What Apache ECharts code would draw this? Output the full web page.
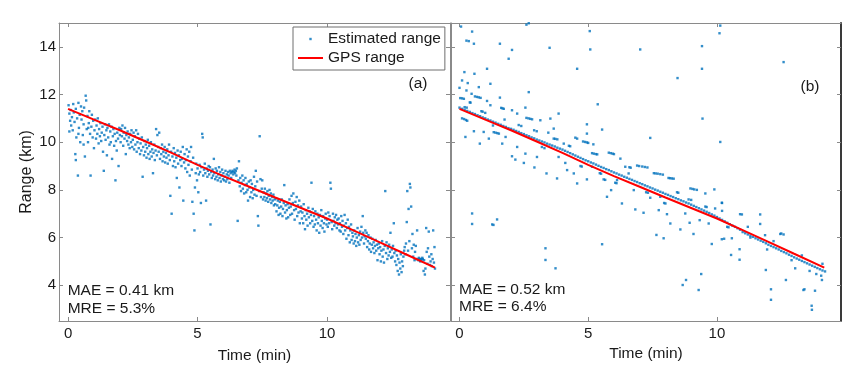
<!DOCTYPE html>
<html>
<head>
<meta charset="utf-8">
<script src="https://cdn.jsdelivr.net/npm/echarts@6/dist/echarts.min.js"></script>
<style>html,body{margin:0;padding:0;background:#fff}#c{width:858px;height:372px}</style>
</head>
<body>
<div id="c"></div>
<script>
// ---- data ----
const xTicks = [0, 5, 10];
const yTicks = [4, 6, 8, 10, 12, 14];
const gpsTime  = [0, 1, 2, 3, 4, 5, 6, 7, 8, 9, 10, 11, 12, 13, 14.17];
const gpsRange = [11.40, 10.95, 10.50, 10.03, 9.55, 9.05, 8.58, 8.13, 7.68, 7.24, 6.80, 6.31, 5.82, 5.32, 4.74];

// panel (a): estimated range [time (min), range (km)]
const estA = [
[0.02,11.55],[0.05,11.2],[0.08,10.9],[0.1,11.35],[0.12,10.7],[0.15,11.05],[0.18,10.5],[0.2,11.6],[0.22,11.25],[0.25,10.85],[0.28,9.5],[0.3,11.4],[0.32,10.2],[0.35,11.0],[0.38,8.6],[0.4,11.65],[0.42,10.6],[0.45,11.15],[0.47,10.0],[0.5,11.5],[0.05,10.45],[0.3,9.25],[0.4,10.35],
[0.52,10.95],[0.55,11.3],[0.57,10.3],[0.6,10.75],[0.62,11.45],[0.65,9.4],[0.68,11.95],[0.7,11.75],[0.72,10.55],[0.75,11.1],[0.77,10.0],[0.8,10.8],[0.82,11.3],[0.85,10.35],[0.87,8.6],[0.9,10.65],[0.92,11.15],[0.95,10.2],[0.97,10.9],[1.0,9.75],[0.78,10.6],[0.6,9.9],
[1.02,10.5],[1.05,10.95],[1.08,10.15],[1.1,10.7],[1.13,10.35],[1.15,11.0],[1.18,9.95],[1.2,10.55],[1.23,10.25],[1.25,10.8],[1.28,10.05],[1.3,10.4],[1.33,10.65],[1.35,9.6],[1.38,8.8],[1.4,10.3],[1.43,10.75],[1.45,10.1],[1.48,10.5],[1.5,9.45],
[1.52,10.6],[1.55,10.2],[1.58,10.75],[1.6,9.9],[1.63,10.45],[1.65,10.0],[1.68,10.65],[1.7,9.3],[1.73,10.25],[1.75,10.55],[1.78,9.85],[1.8,10.35],[1.83,8.4],[1.85,10.05],[1.88,9.65],[1.9,10.4],[1.93,10.15],[1.95,9.0],[1.98,10.6],[2.0,10.3],
[2.03,10.0],[2.05,10.55],[2.08,10.25],[2.1,10.7],[2.13,9.85],[2.15,10.4],[2.18,10.15],[2.2,10.6],[2.23,9.5],[2.25,10.3],[2.28,10.05],[2.3,10.45],[2.33,9.9],[2.35,10.2],[2.38,9.75],[2.4,10.35],[2.43,10.0],[2.45,10.5],[2.48,9.8],
[2.5,10.1],[2.53,10.4],[2.55,9.7],[2.58,10.25],[2.6,9.9],[2.63,10.5],[2.65,9.6],[2.68,10.0],[2.7,10.35],[2.73,9.75],[2.75,10.15],[2.78,9.5],[2.8,9.95],[2.83,9.65],[2.85,10.2],[2.88,8.55],[2.9,9.8],[2.93,9.45],[2.95,10.05],[2.98,9.6],
[3.0,9.9],[3.03,9.35],[3.05,9.75],[3.08,10.1],[3.1,9.5],[3.13,9.85],[3.15,9.3],[3.18,9.6],[3.2,10.0],[3.23,9.4],[3.25,9.7],[3.28,8.7],[3.3,9.55],[3.33,9.9],[3.35,9.25],[3.38,9.65],[3.4,10.55],[3.43,9.45],[3.45,10.3],[3.48,9.8],[3.5,9.6],
[3.52,10.4],[3.55,9.3],[3.58,9.75],[3.6,9.5],[3.63,9.9],[3.65,9.2],[3.68,9.6],[3.7,9.4],[3.73,9.8],[3.75,9.15],[3.78,9.55],[3.8,9.35],[3.83,9.7],[3.85,9.1],[3.88,9.45],[3.9,9.9],[3.93,9.25],[3.95,7.75],[3.98,9.6],[4.0,7.0],
[4.03,9.4],[4.05,9.0],[4.08,9.75],[4.1,9.2],[4.13,9.55],[4.15,8.95],[4.18,9.35],[4.2,8.5],[4.23,9.65],[4.25,9.1],[4.28,9.45],[4.3,8.1],[4.33,9.25],[4.35,9.6],[4.38,9.0],[4.4,9.3],[4.43,9.8],[4.45,7.55],[4.48,9.15],
[4.5,9.5],[4.53,8.9],[4.55,9.25],[4.58,9.7],[4.6,8.75],[4.63,9.4],[4.65,9.05],[4.68,9.6],[4.7,8.6],[4.73,9.2],[4.75,9.8],[4.78,8.85],[4.8,7.5],[4.83,9.35],[4.85,7.0],[4.88,6.3],[4.9,8.1],[4.93,8.7],[4.95,9.1],[4.98,8.4],
[5.0,8.9],[5.03,7.9],[5.05,8.65],[5.08,9.05],[5.1,8.75],[5.13,7.45],[5.15,8.95],[5.18,10.35],[5.2,10.2],[5.22,8.6],[5.25,8.85],[5.28,9.1],[5.3,8.7],[5.33,7.55],[5.35,8.9],[5.38,8.55],[5.4,8.8],[5.43,9.0],[5.45,8.65],[5.48,8.95],[5.5,6.55],
[5.53,8.75],[5.55,8.5],[5.58,8.85],[5.6,8.6],[5.63,9.3],[5.65,8.7],[5.68,8.45],[5.7,8.9],[5.73,8.55],[5.75,8.8],[5.78,8.4],[5.8,8.65],[5.83,8.95],[5.85,8.5],[5.88,8.75],[5.9,8.35],[5.93,8.6],[5.95,8.85],[5.98,8.45],
[6.0,8.7],[6.03,8.4],[6.05,8.55],[6.08,8.8],[6.1,8.35],[6.13,8.65],[6.15,8.45],[6.18,8.75],[6.2,8.6],[6.23,8.3],[6.25,8.8],[6.28,8.7],[6.3,8.5],[6.33,8.75],[6.35,8.8],[6.38,8.65],[6.4,8.75],[6.43,8.85],[6.45,8.7],[6.48,8.8],[6.5,8.6],
[6.52,8.9],[6.55,6.7],[6.58,8.4],[6.6,9.2],[6.63,8.15],[6.65,8.5],[6.68,7.95],[6.7,8.3],[6.73,8.6],[6.75,8.05],[6.78,8.4],[6.8,7.85],[6.83,8.2],[6.85,8.5],[6.88,7.9],[6.9,8.25],[6.93,8.0],[6.95,7.55],[6.98,8.35],
[7.0,8.1],[7.03,7.7],[7.05,8.4],[7.08,7.9],[7.1,8.25],[7.13,7.65],[7.15,8.0],[7.18,8.55],[7.2,7.8],[7.23,8.15],[7.25,8.8],[7.28,7.75],[7.3,8.35],[7.33,6.9],[7.35,6.5],[7.38,7.95],[7.4,10.25],[7.43,8.45],[7.45,7.7],[7.48,8.05],[7.5,8.4],
[7.53,7.6],[7.55,7.9],[7.58,7.7],[7.6,8.05],[7.63,7.55],[7.65,7.85],[7.68,7.65],[7.7,7.95],[7.73,7.5],[7.75,7.75],[7.78,8.0],[7.8,7.6],[7.83,7.85],[7.85,7.45],[7.88,7.7],[7.9,7.55],[7.93,7.8],[7.95,7.35],[7.98,7.6],
[8.0,7.4],[8.03,7.65],[8.05,7.1],[8.08,7.35],[8.1,7.55],[8.13,6.95],[8.15,7.25],[8.18,7.5],[8.2,7.0],[8.23,7.3],[8.25,7.6],[8.28,6.9],[8.3,7.2],[8.33,7.45],[8.35,8.2],[8.38,7.05],[8.4,7.35],[8.43,6.8],[8.45,7.15],[8.48,7.4],
[8.5,6.85],[8.53,7.25],[8.55,7.6],[8.58,6.95],[8.6,7.3],[8.63,7.75],[8.65,7.0],[8.68,7.45],[8.7,7.85],[8.73,7.15],[8.75,6.75],[8.78,7.5],[8.8,7.2],[8.83,7.7],[8.85,6.9],[8.88,7.35],[8.9,7.05],[8.93,7.55],[8.95,6.6],[8.98,7.1],
[9.0,7.3],[9.03,6.8],[9.05,7.05],[9.08,6.6],[9.1,7.4],[9.13,6.9],[9.15,6.35],[9.18,7.15],[9.2,6.75],[9.23,7.0],[9.25,6.5],[9.28,7.25],[9.3,6.85],[9.33,7.1],[9.35,6.6],[9.38,6.95],[9.4,8.3],[9.43,6.7],[9.45,7.2],[9.48,6.45],
[9.5,6.9],[9.53,6.55],[9.55,7.1],[9.58,6.75],[9.6,6.3],[9.63,7.0],[9.65,6.6],[9.68,6.85],[9.7,6.2],[9.73,6.95],[9.75,6.5],[9.78,7.15],[9.8,6.7],[9.83,6.4],[9.85,6.9],[9.88,6.6],[9.9,6.25],[9.93,6.8],[9.95,7.0],[9.98,6.55],
[10.0,6.75],[10.03,6.45],[10.05,7.05],[10.08,6.6],[10.1,6.9],[10.13,8.3],[10.15,8.05],[10.18,6.65],[10.2,6.35],[10.23,7.0],[10.25,6.7],[10.28,6.5],[10.3,6.85],[10.33,6.6],[10.35,6.95],[10.38,6.4],[10.4,6.75],[10.43,6.55],[10.45,6.8],[10.48,6.3],
[10.5,6.6],[10.53,6.25],[10.55,6.9],[10.58,6.45],[10.6,6.7],[10.63,6.15],[10.65,6.5],[10.68,6.95],[10.7,6.3],[10.73,6.6],[10.75,5.95],[10.78,6.4],[10.8,6.75],[10.83,6.1],[10.85,6.45],[10.88,5.8],[10.9,6.3],[10.93,6.55],[10.95,5.9],[10.98,6.2],
[11.0,6.05],[11.03,5.75],[11.05,6.3],[11.08,5.85],[11.1,6.15],[11.13,5.65],[11.15,6.0],[11.18,6.4],[11.2,5.8],[11.23,6.1],[11.25,5.7],[11.28,6.25],[11.3,5.9],[11.33,6.45],[11.35,6.0],[11.38,6.9],[11.4,6.2],[11.43,5.75],[11.45,6.05],[11.48,6.3],
[11.5,5.95],[11.53,6.2],[11.55,5.6],[11.58,5.85],[11.6,6.1],[11.63,5.5],[11.65,5.75],[11.68,6.0],[11.7,5.4],[11.73,5.7],[11.75,5.95],[11.78,5.55],[11.8,5.8],[11.83,5.35],[11.85,5.65],[11.88,5.9],[11.9,5.45],[11.93,5.7],[11.95,5.05],[11.98,5.55],
[12.0,5.75],[12.03,5.3],[12.05,5.6],[12.08,5.0],[12.1,5.45],[12.13,5.85],[12.15,5.2],[12.18,5.5],[12.2,4.95],[12.23,5.65],[12.25,7.95],[12.28,5.35],[12.3,5.8],[12.33,5.1],[12.35,5.55],[12.38,5.25],[12.4,5.7],[12.43,5.4],[12.45,6.2],[12.48,5.15],
[12.5,5.5],[12.53,5.2],[12.55,5.65],[12.58,6.6],[12.6,5.35],[12.63,5.0],[12.65,5.45],[12.68,4.85],[12.7,5.25],[12.73,4.6],[12.75,5.1],[12.78,4.45],[12.8,4.95],[12.83,4.7],[12.85,5.3],[12.88,4.55],[12.9,5.0],[12.93,4.8],[12.95,5.2],[12.98,5.45],
[13.0,5.6],[13.03,5.3],[13.05,5.75],[13.08,6.65],[13.1,7.95],[13.13,5.45],[13.15,7.2],[13.18,5.85],[13.2,8.25],[13.22,8.1],[13.25,7.3],[13.28,5.55],[13.3,6.15],[13.33,5.2],[13.35,5.7],[13.38,5.05],[13.4,5.4],[13.43,5.65],[13.45,5.1],[13.48,6.3],
[13.5,5.1],[13.53,5.05],[13.55,5.15],[13.58,5.1],[13.6,5.0],[13.63,5.1],[13.65,5.05],[13.68,5.15],[13.7,5.1],[13.73,4.6],[13.75,5.05],[13.78,4.45],[13.8,4.7],[13.83,6.4],[13.85,5.4],[13.88,4.9],[13.9,5.55],[13.93,6.25],[13.95,5.2],[13.98,4.85],[14.0,5.0],[14.03,5.3],[14.05,4.8],[14.08,5.1],[14.1,6.3],[14.13,4.95],[14.15,5.6],[14.17,4.7]
];

// panel (b): dense track of estimates close to the GPS line
const estBTrack = [
[0.0,11.45],[0.1,11.40],[0.2,11.36],[0.3,11.31],[0.4,11.27],[0.5,11.22],[0.6,11.18],[0.7,11.13],[0.8,11.09],[0.9,11.04],
[1.0,11.00],[1.1,10.95],[1.2,10.91],[1.3,10.86],[1.4,10.82],[1.5,10.77],[1.6,10.73],[1.7,10.68],[1.8,10.64],[1.9,10.59],
[2.0,10.56],[2.1,10.52],[2.2,10.47],[2.3,10.43],[2.4,10.38],[2.5,10.34],[2.6,10.29],[2.7,10.25],[2.8,10.20],[2.9,10.16],
[3.0,10.11],[3.1,10.07],[3.2,10.03],[3.3,9.99],[3.4,9.94],[3.5,9.90],[3.6,9.86],[3.7,9.82],[3.8,9.77],[3.9,9.73],
[4.0,9.69],[4.1,9.64],[4.2,9.59],[4.3,9.54],[4.4,9.49],[4.5,9.44],[4.6,9.39],[4.7,9.34],[4.8,9.29],[4.9,9.24],
[5.0,9.20],[5.1,9.15],[5.2,9.11],[5.3,9.06],[5.4,9.01],[5.5,8.96],[5.6,8.92],[5.7,8.87],[5.8,8.83],[5.9,8.78],
[6.0,8.73],[6.1,8.69],[6.2,8.64],[6.3,8.60],[6.4,8.55],[6.5,8.51],[6.6,8.46],[6.7,8.42],[6.8,8.37],[6.9,8.33],
[7.0,8.28],[7.1,8.24],[7.2,8.19],[7.3,8.15],[7.4,8.10],[7.5,8.06],[7.6,8.01],[7.7,7.97],[7.8,7.92],[7.9,7.88],
[8.0,7.83],[8.1,7.79],[8.2,7.74],[8.3,7.70],[8.4,7.65],[8.5,7.61],[8.6,7.56],[8.7,7.52],[8.8,7.47],[8.9,7.43],
[9.0,7.38],[9.1,7.33],[9.2,7.28],[9.3,7.23],[9.4,7.18],[9.5,7.13],[9.6,7.08],[9.7,7.03],[9.8,6.97],[9.9,6.92],
[10.0,6.86],[10.1,6.80],[10.2,6.74],[10.3,6.68],[10.4,6.62],[10.5,6.56],[10.6,6.50],[10.7,6.45],[10.8,6.39],[10.9,6.33],
[11.0,6.23],[11.1,6.18],[11.2,6.13],[11.3,6.08],[11.4,6.03],[11.5,5.97],[11.6,5.92],[11.7,5.87],[11.8,5.82],[11.9,5.76],
[12.0,5.70],[12.1,5.65],[12.2,5.60],[12.3,5.55],[12.4,5.50],[12.5,5.44],[12.6,5.39],[12.7,5.34],[12.8,5.28],[12.9,5.23],
[13.0,5.17],[13.1,5.12],[13.2,5.07],[13.3,5.02],[13.4,4.97],[13.5,4.92],[13.6,4.87],[13.7,4.82],[13.8,4.77],[13.9,4.72],
[14.0,4.67],[14.1,4.62],[14.2,4.58]
];

// panel (b): scattered estimates
const estBScatter = [
[0.06,14.85],[0.49,14.64],[0.27,14.26],[0.36,14.24],[0.56,14.13],[1.57,14.13],[2.04,13.87],[1.91,13.5],[2.6,14.93],[2.69,14.99],[3.5,13.96],[4.57,13.08],[5.06,14.66],[5.08,13.89],[7.02,13.89],[8.47,12.69],[9.42,14.03],[9.42,13.08],[10.1,14.57],[10.13,14.89],[12.59,13.36],[9.44,10.99],[10.13,10.01],[7.41,10.18],[5.37,11.59],[5.54,10.53],[2.69,12.1],[1.2,12.45],[1.07,13.08],[0.19,12.94],[0.58,12.87],[0.1,12.59],[0.32,12.48],[0.0,12.28],[0.27,12.17],[0.47,12.03],[0.75,12.31],
[0.03,11.85],[0.1,11.84],[0.17,11.82],[0.6,11.92],[0.68,11.9],[0.75,11.88],[0.82,11.86],[1.07,11.73],[1.2,11.55],[1.57,11.87],[1.62,11.44],[1.67,11.42],[1.72,11.4],[2.04,11.34],[2.24,11.2],[2.56,11.45],[2.6,11.02],[2.68,11.0],[2.75,10.98],[2.82,10.96],[3.14,10.92],[3.53,10.99],[3.66,10.57],[3.85,11.2],[3.66,10.15],[3.72,10.14],[3.8,10.12],[4.05,9.94],[4.5,10.19],[4.57,10.15],[4.8,10.03],[4.88,10.01],[4.95,9.99],[5.0,9.97],[4.95,10.75],[5.2,9.91],[4.95,10.36],[5.15,9.54],[5.22,9.52],[5.3,9.5],[5.35,9.49],[5.8,9.56],[5.88,9.54],[5.95,9.52],[6.0,9.5],[6.25,9.31],[6.44,8.97],[6.9,9.02],[6.98,9.0],[7.1,8.98],[7.2,8.96],[7.3,8.94],[7.55,8.7],[7.62,8.69],[7.7,8.68],[7.8,8.66],[7.9,8.64],[8.12,8.5],[8.18,8.49],[8.25,8.48],[8.32,8.47],[8.97,8.06],[9.05,8.04],[9.12,8.02],[9.22,8.0],[9.55,7.85],[9.9,8.02],[10.2,7.45],[10.19,7.46],[10.2,7.12],[9.93,7.22],[10.97,6.97],[10.9,6.98],[11.68,6.97],[11.68,6.57],[11.87,6.1],[12.46,6.15],[12.59,6.13],[12.5,6.17],
[0.1,11.0],[0.18,10.97],[0.25,10.93],[0.3,10.9],[0.23,10.22],[0.56,10.46],[0.79,9.94],[0.94,10.43],[1.14,10.15],[1.33,10.42],[1.4,10.4],[1.47,10.38],[1.53,10.36],[1.66,9.94],[1.79,10.22],[2.04,9.41],[2.17,9.27],[2.24,9.8],[2.5,9.13],[2.56,9.52],[2.91,8.94],[3.01,9.38],[3.38,8.69],[3.79,8.48],[3.85,9.38],[4.11,9.13],[4.18,8.83],[4.44,8.69],[4.57,8.27],[4.95,8.44],[5.15,8.97],[5.6,8.44],[5.66,8.42],[5.73,7.71],[5.89,7.99],[6.12,8.41],[6.31,7.43],[6.57,8.69],[6.77,7.99],[6.83,7.18],[7.15,7.04],[7.41,7.67],[7.74,7.15],[7.8,7.71],[8.06,6.98],[8.19,6.59],[8.58,6.34],[8.77,7.01],[8.94,6.62],[9.09,6.15],[9.33,6.73],[9.68,6.59],[9.8,5.73],[10.19,5.93],[10.28,5.95],[10.58,5.97],[10.55,5.27],[10.88,5.51],[10.88,5.07],[11.9,4.64],[12.68,4.22],[13.04,4.71],[13.86,4.47],[14.05,4.4],[14.08,4.22],
[0.49,7.01],[0.49,6.57],[1.27,6.55],[1.32,6.53],[1.46,6.76],[3.34,5.55],[3.34,5.06],[3.73,4.71],[5.54,5.72],[7.65,6.11],[7.93,5.97],[8.67,4.01],[8.8,4.22],[9.29,3.8],[9.39,4.47],[12.1,3.83],[12.1,3.39],[13.4,3.83],[13.81,3.77],[13.68,3.14],[13.36,3.8],[13.69,2.97],
[0.4,11.67],[0.43,11.66],[0.2,11.47],[0.28,11.45],[0.85,11.3],[0.9,11.28],[1.0,11.23],[1.3,10.7],[1.75,10.95],[2.3,10.72],[2.4,10.68],[2.9,10.5],[3.0,10.46],[3.2,9.8],[3.3,9.75],[3.45,10.4],[4.25,9.85],[4.3,9.83],[4.7,9.0],[4.75,8.98],[5.45,8.7],[5.5,8.68],[6.05,8.3],[6.1,8.28],[6.6,8.95],[6.65,8.93],[7.25,7.9],[7.32,7.88],[7.95,7.45],[8.0,7.43],[8.45,7.9],[8.5,7.88],[8.9,7.6],[9.0,7.58],[9.55,7.3],[9.6,7.28],[10.4,6.45],[10.45,6.43],[11.2,6.45],[11.3,6.0],[11.95,5.5],[12.2,5.85],[12.9,5.05],[13.3,5.25],[13.6,4.6],[14.1,4.9]
];

// ---- chart ----
const FONT = "'Liberation Sans', Arial, Helvetica, sans-serif";
const TXT = '#1a1a1a';
const FRAME = '#8a8a8a';
const BLUE = '#0072BD';
const gpsPairs = gpsTime.map((t, i) => [t, gpsRange[i]]);
const estB = estBTrack.concat(estBScatter);

function xAx(grid, pos, min, max, labels, nameGap) {
  return {
    type: 'value', gridIndex: grid, position: pos, min: min, max: max,
    axisLine: { show: true, onZero: false, lineStyle: { color: FRAME, width: 1 } },
    axisTick: { show: true, inside: true, length: 4, customValues: xTicks, lineStyle: { color: FRAME } },
    axisLabel: { show: labels, customValues: xTicks, margin: 5, fontSize: 15, color: TXT, fontFamily: FONT },
    splitLine: { show: false },
    name: labels ? 'Time (min)' : '', nameLocation: 'middle', nameGap: nameGap,
    nameTextStyle: { fontSize: 15.5, color: TXT, fontFamily: FONT }
  };
}
function yAx(grid, pos, labels, color, width) {
  return {
    type: 'value', gridIndex: grid, position: pos, min: 2.5, max: 15,
    axisLine: { show: true, onZero: false, lineStyle: { color: color || FRAME, width: width || 1 } },
    axisTick: { show: true, inside: true, length: 4, customValues: yTicks, lineStyle: { color: FRAME } },
    axisLabel: { show: labels, customValues: yTicks, margin: 3, fontSize: 15, color: TXT, fontFamily: FONT },
    splitLine: { show: false },
    name: labels ? 'Range (km)' : '', nameLocation: 'middle', nameGap: 24,
    nameTextStyle: { fontSize: 16, color: TXT, fontFamily: FONT }
  };
}

const chart = echarts.init(document.getElementById('c'), null, { renderer: 'canvas' });
chart.setOption({
  animation: false,
  backgroundColor: '#fff',
  grid: [
    { left: 59, top: 23, width: 391, height: 298 },
    { left: 451, top: 23, width: 390, height: 298 }
  ],
  xAxis: [
    xAx(0, 'bottom', -0.35, 14.75, true, 27),
    xAx(0, 'top', -0.35, 14.75, false, 0),
    xAx(1, 'bottom', -0.33, 14.82, true, 19.5),
    xAx(1, 'top', -0.33, 14.82, false, 0)
  ],
  yAxis: [
    yAx(0, 'left', true),
    yAx(0, 'right', false),
    yAx(1, 'left', false),
    yAx(1, 'right', false, '#3a3a3a', 2)
  ],
  legend: {
    orient: 'vertical', left: 293, top: 27,
    padding: [4, 4, 4, 5], itemWidth: 25, itemHeight: 14, itemGap: 3,
    borderColor: '#6e6e6e', borderWidth: 1, backgroundColor: '#fff',
    textStyle: { fontSize: 15.5, color: TXT, fontFamily: FONT },
    selectedMode: false,
    data: [
      { name: 'Estimated range', icon: 'path://M0,0M25,14M11.3,5.8h2.4v2.4h-2.4z' },
      { name: 'GPS range', icon: 'path://M0,0M25,14M0,6h25v2h-25z', itemStyle: { color: '#ff0000' } }
    ]
  },
  series: [
    { name: 'Estimated range', type: 'scatter', xAxisIndex: 0, yAxisIndex: 0, data: estA,
      symbol: 'rect', symbolSize: 2.4, itemStyle: { color: BLUE }, z: 2, silent: true },
    { name: 'GPS range', type: 'line', xAxisIndex: 0, yAxisIndex: 0, data: gpsPairs,
      showSymbol: false, symbol: 'none', lineStyle: { color: '#ff0000', width: 2 }, itemStyle: { color: '#ff0000' }, z: 3, silent: true },
    { name: 'Estimated range', type: 'scatter', xAxisIndex: 2, yAxisIndex: 2, data: estB,
      symbol: 'rect', symbolSize: 2.4, itemStyle: { color: BLUE }, z: 2, silent: true },
    { name: 'GPS range', type: 'line', xAxisIndex: 2, yAxisIndex: 2, data: gpsPairs,
      showSymbol: false, symbol: 'none', lineStyle: { color: '#ff0000', width: 2 }, itemStyle: { color: '#ff0000' }, z: 3, silent: true }
  ],
  graphic: [
    { type: 'text', x: 67.7, y: 290.7, style: { text: 'MAE = 0.41 km', fontSize: 15.5, fontFamily: FONT, fill: TXT, align: 'left', verticalAlign: 'middle' } },
    { type: 'text', x: 67.7, y: 308.3, style: { text: 'MRE = 5.3%', fontSize: 15.5, fontFamily: FONT, fill: TXT, align: 'left', verticalAlign: 'middle' } },
    { type: 'text', x: 459, y: 289.3, style: { text: 'MAE = 0.52 km', fontSize: 15.5, fontFamily: FONT, fill: TXT, align: 'left', verticalAlign: 'middle' } },
    { type: 'text', x: 459, y: 306.7, style: { text: 'MRE = 6.4%', fontSize: 15.5, fontFamily: FONT, fill: TXT, align: 'left', verticalAlign: 'middle' } },
    { type: 'text', x: 418, y: 84, style: { text: '(a)', fontSize: 15.5, fontFamily: FONT, fill: TXT, align: 'center', verticalAlign: 'middle' } },
    { type: 'text', x: 810, y: 86.7, style: { text: '(b)', fontSize: 15.5, fontFamily: FONT, fill: TXT, align: 'center', verticalAlign: 'middle' } }
  ]
});
</script>
</body>
</html>
